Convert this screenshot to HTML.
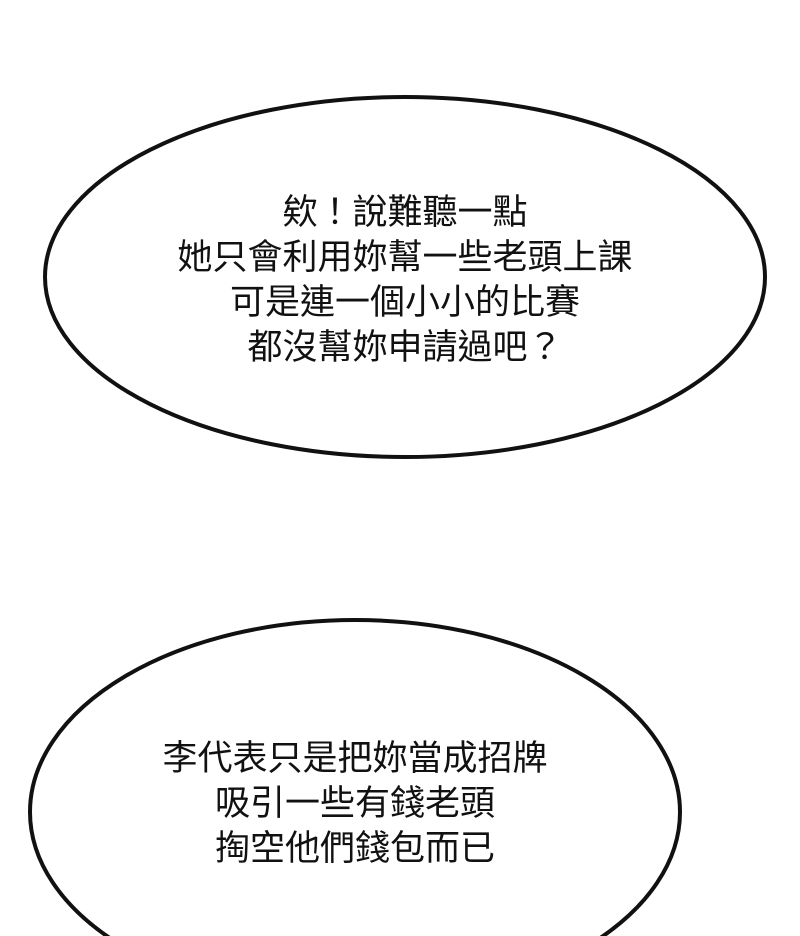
<!DOCTYPE html>
<html><head><meta charset="utf-8"><style>
html,body{margin:0;padding:0;background:#fff;width:800px;height:936px;overflow:hidden;}
body{position:relative;}
svg{position:absolute;left:0;top:0;overflow:hidden;}
text{font-family:"Liberation Sans","Noto Sans CJK TC",sans-serif;font-size:35px;fill:#111;text-anchor:middle;}
</style></head><body>
<svg width="800" height="936" viewBox="0 0 800 936">
<ellipse cx="405" cy="277" rx="360" ry="180" fill="#fff" stroke="#111" stroke-width="4"/>
<ellipse cx="355" cy="812" rx="325" ry="192" fill="#fff" stroke="#111" stroke-width="4"/>
<text x="405" y="224">欸！說難聽一點</text>
<text x="405" y="269">她只會利用妳幫一些老頭上課</text>
<text x="405" y="314">可是連一個小小的比賽</text>
<text x="405" y="359">都沒幫妳申請過吧？</text>
<text x="355" y="770">李代表只是把妳當成招牌</text>
<text x="355" y="815">吸引一些有錢老頭</text>
<text x="355" y="860">掏空他們錢包而已</text>
</svg>
</body></html>
